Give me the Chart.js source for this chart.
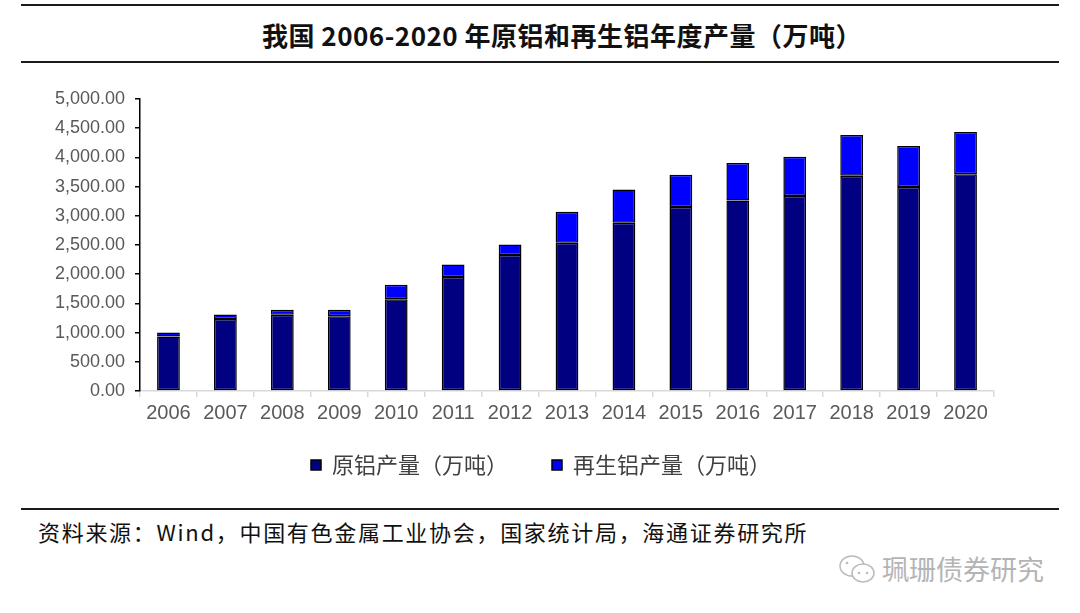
<!DOCTYPE html>
<html>
<head>
<meta charset="utf-8">
<script src="https://cdn.jsdelivr.net/npm/chart.js@4.4.0/dist/chart.umd.min.js"></script>
<style>
  body { margin: 0; background: #fff; width: 1080px; height: 613px; position: relative; overflow: hidden; font-family: "Noto Sans CJK SC", sans-serif; }
  .rule { position: absolute; left: 21px; width: 1038px; height: 2px; background: #1a1a1a; }
  #title { position: absolute; top: 16px; left: 0; width: 1124px; text-align: center; font-size: 26px; font-weight: bold; color: #111; letter-spacing: 0.5px; }
  #source { position: absolute; top: 515px; left: 38px; font-size: 22px; color: #111; letter-spacing: 1.7px; }
  #mark { position: absolute; top: 549px; left: 838px; font-size: 27px; color: #b4b4b4; }
  #mark svg { vertical-align: -6px; margin-right: 4px; }
  #wrap { position: absolute; left: 0; top: 70px; width: 1080px; height: 420px; }
</style>
</head>
<body>
<div class="rule" style="top:4px"></div>
<div id="title">我国 2006-2020 年原铝和再生铝年度产量（万吨）</div>
<div class="rule" style="top:61px"></div>
<div id="wrap"><canvas id="myChart"></canvas></div>
<div class="rule" style="top:508px"></div>
<div id="source">资料来源：Wind，中国有色金属工业协会，国家统计局，海通证券研究所</div>
<div id="mark"><svg width="40" height="32" viewBox="0 0 40 32"><ellipse cx="14" cy="12" rx="12" ry="10" fill="none" stroke="#bbb" stroke-width="1.5"/><ellipse cx="25" cy="19" rx="11" ry="9" fill="#fff" stroke="#bbb" stroke-width="1.5"/><circle cx="21" cy="19" r="1.3" fill="#bbb"/><circle cx="29" cy="19" r="1.3" fill="#bbb"/><circle cx="9" cy="9" r="1.3" fill="#bbb"/></svg>珮珊债券研究</div>

<script>
// 数值按图读出，单位：万吨
const years = ['2006', '2007', '2008', '2009', '2010', '2011', '2012', '2013', '2014', '2015', '2016', '2017', '2018', '2019', '2020'];
const primary = [935, 1234, 1305, 1280, 1570, 1950, 2330, 2540, 2880, 3150, 3260, 3340, 3685, 3495, 3710];
const recycled = [65, 75, 85, 110, 250, 215, 180, 530, 570, 555, 645, 670, 700, 700, 725];
const yTicks = [0, 500, 1000, 1500, 2000, 2500, 3000, 3500, 4000, 4500, 5000];

// 图例项间距要宽，但不想让它把绘图区往上挤
const legendTweak = {
    id: 'legendTweak',
    beforeInit(chart) {
        const fit = chart.legend.fit;
        chart.legend.fit = function () { fit.call(this); this.height -= 25; };
    },
    afterLayout(chart) {
        const lg = chart.legend;
        lg.top -= 23;   // bottom 不动，免得文字被裁掉
        lg.left += 24;
        lg.right += 24;
    }
};

const renderChart = () => {
    const ctx = document.getElementById('myChart').getContext('2d');
    const common = { borderColor: '#000', borderWidth: 1.5, borderSkipped: false, barPercentage: 0.4, categoryPercentage: 1 };

    new Chart(ctx, {
        type: 'bar',
        data: {
            labels: years,
            datasets: [
                Object.assign({ label: '原铝产量（万吨）', data: primary, backgroundColor: '#000080' }, common),
                Object.assign({ label: '再生铝产量（万吨）', data: recycled, backgroundColor: '#0000ff' }, common)
            ]
        },
        options: {
            responsive: true,
            maintainAspectRatio: false,
            animation: false,
            layout: { padding: { left: 40, right: 86, top: 29, bottom: 6 } },
            plugins: {
                tooltip: { enabled: false },
                legend: {
                    position: 'bottom',
                    labels: {
                        boxWidth: 10, boxHeight: 10, padding: 44,
                        color: '#404040',
                        font: { family: '"Noto Sans CJK SC"', size: 22 }
                    }
                }
            },
            scales: {
                x: {
                    stacked: true,
                    border: { color: '#d9d9d9', width: 1.5 },
                    grid: { drawOnChartArea: false, color: '#d9d9d9', tickLength: 6, lineWidth: 1.5 },
                    ticks: { color: '#595959', padding: 4, font: { family: '"Liberation Sans", Arial', size: 20 } },
                    afterFit: s => { s.height = 42; }
                },
                y: {
                    stacked: true,
                    min: 0, max: 5000,
                    afterBuildTicks: s => { s.ticks = yTicks.map(v => ({ value: v })); },
                    border: { color: '#000', width: 1.5 },
                    grid: { drawOnChartArea: false, color: '#000', tickLength: 5, lineWidth: 1.5 },
                    ticks: {
                        color: '#595959', padding: 10,
                        font: { family: '"Liberation Sans", Arial', size: 18 },
                        callback: v => v.toLocaleString('en-US', { minimumFractionDigits: 2, maximumFractionDigits: 2 })
                    },
                    afterFit: s => { s.width = 100; }
                }
            }
        },
        plugins: [legendTweak]
    });
};

document.addEventListener('DOMContentLoaded', renderChart);
</script>
</body>
</html>
